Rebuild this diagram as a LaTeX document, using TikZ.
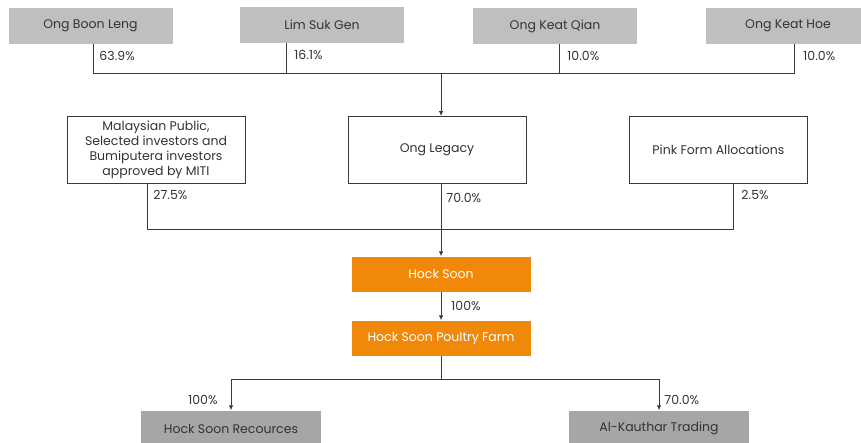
\documentclass[tikz,border=0pt]{standalone}
\usepackage{fontspec}
\setmainfont{Poppins}
\usetikzlibrary{arrows.meta, positioning}
\definecolor{boxgray}{HTML}{BFBFBF}
\definecolor{subgray}{HTML}{A6A6A6}
\definecolor{hsorange}{HTML}{F0880A}
\definecolor{linegray}{HTML}{3A3A3A}
\definecolor{txtgray}{HTML}{333333}

\begin{document}
\begin{tikzpicture}[x=1pt, y=-1pt,
        person/.style={rectangle, fill=boxgray, minimum width=164pt, minimum height=36pt, align=center, font=\fontsize{12.5}{15}\selectfont, text=txtgray},
        holder/.style={rectangle, draw=linegray, line width=0.9pt, fill=white, minimum width=178pt, minimum height=67pt, align=center, font=\fontsize{12.5}{15}\selectfont, text=txtgray},
        company/.style={rectangle, fill=hsorange, minimum width=179pt, minimum height=35pt, align=center, font=\fontsize{12.5}{15}\selectfont, text=white},
        subco/.style={rectangle, fill=subgray, minimum width=180pt, minimum height=36pt, align=center, font=\fontsize{12.5}{15}\selectfont, text=txtgray},
        pct/.style={font=\fontsize{12.5}{15}\selectfont, text=txtgray, inner sep=1pt},
        link/.style={draw=linegray, line width=0.9pt},
        arrow/.style={link, -{Latex[length=5pt, width=4.5pt]}}
      ]
\clip (0,0) rectangle (861,442);

% shareholders of Ong Legacy
\node[person] (obl) at (90.5,26) {Ong Boon Leng};
      \node[person] (lsg) at (322,25) {Lim Suk Gen};
      \node[person] (okq) at (555,26) {Ong Keat Qian};
      \node[person] (okh) at (788,26) {Ong Keat Hoe};
      \coordinate (topbus) at (441,73);

% shareholders of Hock Soon
\node[holder] (mpub) at (156,149.5) {Malaysian Public,\\Selected investors and\\Bumiputera investors\\approved by MITI};
      \node[holder] (legacy) at (437,150) {Ong Legacy};
      \node[holder] (pink) at (718.5,149.5) {Pink Form Allocations};
      \coordinate (midbus) at (441,229);

% group
\node[company] (hs) at (441,274) {Hock Soon};
      \node[company] (hspf) at (441,338) {Hock Soon Poultry Farm};
      \node[subco] (hsr) at (231,428.5) {Hock Soon Recources};
      \node[subco] (akt) at (659,428.5) {Al-Kauthar Trading};
      \coordinate (lowbus) at (441,379);

\draw[link] ([xshift=2.5pt]obl.south) -- node[pct, right=5pt, pos=0.4] {63.9\%} ([xshift=2.5pt]obl.south |- topbus) -- ([xshift=6pt]okh.south |- topbus) -- node[pct, right=8pt, pos=0.6] {10.0\%} ([xshift=6pt]okh.south);
      \draw[link] ([xshift=-36pt]lsg.south) -- node[pct, right=7pt, pos=0.4] {16.1\%} ([xshift=-36pt]lsg.south |- topbus);
      \draw[link] ([xshift=4pt]okq.south) -- node[pct, right=7pt, pos=0.4] {10.0\%} ([xshift=4pt]okq.south |- topbus);
      \draw[arrow] (topbus) -- (topbus |- legacy.north);

\draw[link] ([xshift=-9pt]mpub.south) -- node[pct, right=5pt, pos=0.26] {27.5\%} ([xshift=-9pt]mpub.south |- midbus) -- ([xshift=14.5pt]pink.south |- midbus) -- node[pct, right=7pt, pos=0.74] {2.5\%} ([xshift=14.5pt]pink.south);
      \draw[arrow] (legacy.south -| hs.north) -- node[pct, right=4pt, pos=0.19] {70.0\%} (hs.north);

\draw[arrow] (hs) -- node[pct, right=9pt] {100\%} (hspf);

\draw[link] (hspf.south) -- (lowbus);
      \draw[arrow] (lowbus) -| node[pct, left=12pt, pos=0.83] {100\%} (hsr.north);
      \draw[arrow] (lowbus) -| node[pct, right=4pt, pos=0.83] {70.0\%} (akt.north);

      \end{tikzpicture}
\end{document}
